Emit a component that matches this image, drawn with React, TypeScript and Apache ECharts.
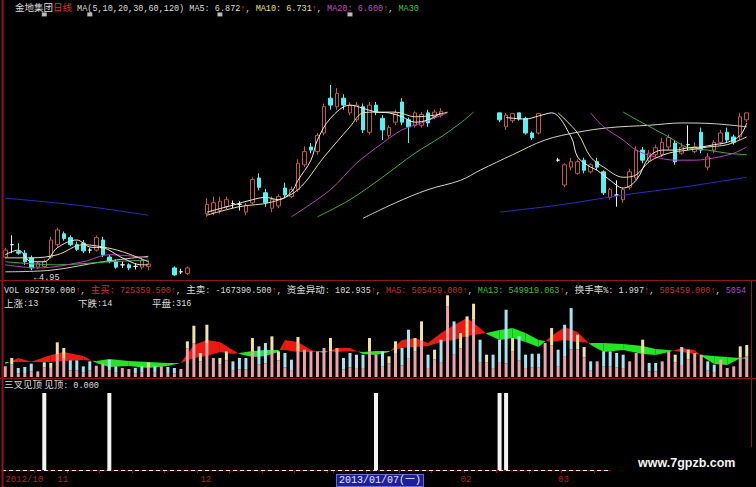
import React, { useEffect, useRef } from 'react';
import * as echarts from 'echarts';

// ---------- categories (trading days shown) ----------
const oct2012 = [22, 23, 24, 25, 26, 29, 30, 31];
const nov2012 = [1, 2, 5, 6, 7, 8, 9, 12, 13, 14, 15, 16, 19, 20, 21, 22, 23, 26, 27, 28, 29, 30];
const dec2012 = [3, 4, 5, 6, 7, 10, 11, 12, 13, 14, 17, 18, 19, 20, 21, 24, 25, 26, 27, 28, 31];
const jan2013 = [7, 8, 9, 10, 11, 14, 15, 16, 17, 18, 21, 22, 23, 24, 25, 28, 29, 30, 31];
const feb2013 = [1, 4, 5, 6, 7, 8, 18, 19, 20, 21, 22, 25, 26, 27, 28];
const mar2013 = [1, 4, 5, 6, 7, 8, 11, 12, 13, 14, 15, 18, 19, 20, 21, 22, 25, 26, 27, 28, 29];
const apr2013 = [1, 2, 3, 8, 9, 10, 11, 12, 15];
const monthBlocks: [number, number, number[]][] = [
  [2012, 10, oct2012], [2012, 11, nov2012], [2012, 12, dec2012],
  [2013, 1, jan2013], [2013, 2, feb2013], [2013, 3, mar2013], [2013, 4, apr2013],
];
const pad = (n: number) => (n < 10 ? '0' + n : '' + n);
const dates: string[] = [];
monthBlocks.forEach(([y, m, ds]) => ds.forEach((d) => dates.push(`${y}/${pad(m)}/${pad(d)}`)));
const cursorIdx = 51;

// ---------- price (open, close, low, high) ----------
const N = null;
const openP = [5.12, 5.28, 5.19, 5.17, 5.11, 4.99, 5.00, 5.12, 5.28, 5.42, 5.37, 5.28, 5.30, 5.21, 5.21, 5.34, 5.12, 5.06, 5.02, 5.02, 5.00, 4.99, 5.00, N, N, N, 4.98, 4.93, 4.91, N,
  N, 5.68, 5.70, 5.72, 5.77, 5.81, 5.80, 5.70, 5.82, 6.14, 5.95, 5.75, 5.78, 6.01, 5.90, 5.99, 6.31, 6.54, 6.48, 6.72, 7.17, 7.06, 7.17, 6.98, 6.89, 7.06, 6.73, 7.08, 6.91, 6.69,
  6.86, 7.12, 6.89, 6.82, 6.82, 6.98, 6.93, 6.95, N, N, N, N, N, N, N, N, 6.98, 6.80, 6.88, 6.98, 6.91, 6.72, 6.72, N, N, 6.37, 6.05, 6.28, 6.20, 6.37,
  6.22, 6.35, 6.22, 5.89, 5.92, 5.86, 6.02, 6.14, 6.50, 6.37, 6.44, 6.44, 6.54, 6.59, 6.46, 6.57, 6.48, 6.73, 6.28, 6.50, 6.60, 6.73, 6.67, 6.67, 6.89];
const closeP = [5.21, 5.28, 5.17, 5.06, 4.98, 5.04, 5.06, 5.34, 5.47, 5.36, 5.28, 5.22, 5.20, 5.21, 5.37, 5.15, 5.06, 4.99, 5.02, 4.98, 5.00, 5.08, 5.03, N, N, N, 4.89, 4.93, 4.98, N,
  N, 5.80, 5.82, 5.84, 5.86, 5.81, 5.80, 5.79, 6.12, 6.02, 5.82, 5.86, 5.90, 5.92, 5.99, 6.33, 6.48, 6.50, 6.69, 7.06, 7.08, 7.23, 7.08, 7.08, 7.08, 6.76, 7.08, 6.99, 6.76, 6.79,
  6.98, 6.86, 6.80, 6.98, 6.96, 6.85, 6.99, 7.00, N, N, N, N, N, N, N, N, 6.89, 6.95, 6.97, 6.90, 6.72, 6.66, 6.97, N, N, 6.37, 6.31, 6.35, 6.35, 6.24,
  6.31, 6.28, 5.95, 5.99, 5.92, 5.99, 6.22, 6.50, 6.37, 6.46, 6.53, 6.60, 6.66, 6.35, 6.54, 6.57, 6.54, 6.50, 6.41, 6.60, 6.72, 6.63, 6.60, 6.93, 6.98];
const lowP = [5.10, 5.17, 5.15, 5.02, 4.95, 4.97, 4.98, 5.10, 5.24, 5.33, 5.26, 5.20, 5.17, 5.17, 5.19, 5.12, 5.04, 4.97, 4.98, 4.95, 4.96, 4.96, 4.95, N, N, N, 4.88, 4.90, 4.89, N,
  N, 5.64, 5.66, 5.68, 5.74, 5.75, 5.72, 5.66, 5.80, 5.98, 5.77, 5.70, 5.75, 5.88, 5.88, 5.96, 6.28, 6.46, 6.44, 6.69, 7.02, 7.02, 7.02, 6.95, 6.86, 6.72, 6.70, 6.95, 6.63, 6.66,
  6.82, 6.82, 6.59, 6.79, 6.79, 6.80, 6.90, 6.92, N, N, N, N, N, N, N, N, 6.86, 6.76, 6.85, 6.88, 6.70, 6.63, 6.70, N, N, 6.35, 6.02, 6.24, 6.18, 6.20,
  6.20, 6.24, 5.92, 5.86, 5.77, 5.82, 5.99, 6.11, 6.33, 6.33, 6.41, 6.41, 6.50, 6.31, 6.44, 6.50, 6.46, 6.46, 6.24, 6.46, 6.57, 6.60, 6.57, 6.63, 6.86];
const highP = [5.24, 5.40, 5.30, 5.21, 5.14, 5.06, 5.09, 5.38, 5.50, 5.45, 5.40, 5.32, 5.34, 5.24, 5.40, 5.38, 5.15, 5.09, 5.06, 5.04, 5.04, 5.11, 5.08, N, N, N, 5.00, 4.97, 5.00, N,
  N, 5.88, 5.90, 5.90, 5.90, 5.85, 5.84, 5.82, 6.15, 6.20, 6.00, 5.90, 5.93, 6.08, 6.03, 6.38, 6.55, 6.59, 6.72, 7.10, 7.34, 7.30, 7.22, 7.12, 7.12, 7.10, 7.12, 7.12, 6.95, 6.82,
  7.02, 7.17, 6.92, 7.00, 6.99, 7.02, 7.02, 7.04, N, N, N, N, N, N, N, N, 6.98, 6.98, 6.98, 6.98, 6.93, 6.74, 6.98, N, N, 6.40, 6.33, 6.40, 6.38, 6.40,
  6.33, 6.40, 6.24, 6.01, 6.11, 6.01, 6.26, 6.55, 6.54, 6.50, 6.57, 6.66, 6.70, 6.63, 6.59, 6.82, 6.60, 6.79, 6.46, 6.63, 6.76, 6.79, 6.70, 6.98, 6.98];
const dojiIdx = [1, 13, 18, 20, 27, 35, 36, 85, 94, 105];
const topMarkIdx = [6, 13, 33, 53];
const topMarkLevel = 8.25;

// ---------- moving averages (key points: [bar, price]) ----------
const ma5L = [[0, 5.15], [2, 5.21], [4, 5.06], [6, 5.06], [8, 5.24], [11, 5.34], [13, 5.25], [15, 5.24], [18, 5.11], [21, 5.02], [22, 5.02]];
const ma5M = [[31, 5.70], [35, 5.79], [38, 5.86], [40, 5.89], [42, 5.86], [44, 5.96], [45, 6.11], [47, 6.37], [48, 6.63], [50, 6.91], [53, 7.08], [55, 7.04], [57, 6.99], [59, 6.98], [61, 6.93], [63, 6.86], [65, 6.89], [67, 6.98]];
const ma5R = [[77, 6.92], [80, 6.90], [82, 6.94], [84, 6.98], [87, 6.67], [88, 6.41], [90, 6.28], [91, 6.24], [93, 6.11], [95, 6.01], [97, 6.11], [99, 6.41], [101, 6.50], [103, 6.50], [105, 6.53], [107, 6.54], [109, 6.57], [111, 6.60], [113, 6.69], [114, 6.85]];
const ma10L = [[0, 5.11], [4, 5.11], [8, 5.15], [12, 5.28], [15, 5.25], [18, 5.19], [22, 5.06]];
const ma10M = [[31, 5.66], [36, 5.77], [41, 5.83], [45, 5.99], [49, 6.41], [53, 6.80], [55, 6.98], [57, 6.99], [60, 6.99], [63, 6.93], [66, 6.95], [68, 6.99]];
const ma10R = [[85, 6.98], [88, 6.72], [90, 6.41], [92, 6.28], [95, 6.15], [97, 6.18], [99, 6.35], [102, 6.46], [105, 6.50], [108, 6.54], [111, 6.57], [114, 6.67]];
const ma20L = [[0, 5.02], [5, 4.98], [12, 5.06], [16, 5.15], [22, 5.11]];
const ma20M = [[44, 5.64], [50, 5.99], [54, 6.33], [58, 6.59], [61, 6.76], [64, 6.85], [68, 6.98]];
const ma20R = [[90, 6.98], [92, 6.80], [95, 6.63], [97, 6.50], [100, 6.41], [103, 6.37], [106, 6.37], [109, 6.40], [112, 6.46], [114, 6.54]];
const ma30L = [[0, 5.06], [8, 5.02], [16, 5.06], [22, 5.08]];
const ma30M = [[48, 5.64], [53, 5.86], [58, 6.15], [63, 6.46], [67, 6.67], [70, 6.85], [72, 6.99]];
const ma30R = [[95, 6.99], [98, 6.85], [102, 6.67], [105, 6.53], [108, 6.50], [111, 6.46], [114, 6.44]];
const ma60L = [[0, 4.93], [7, 4.95], [15, 5.06], [22, 5.13]];
const ma60M = [[55, 5.62], [60, 5.82], [65, 5.99], [70, 6.11], [73, 6.24], [78, 6.44], [83, 6.63], [88, 6.73], [93, 6.79], [99, 6.82], [104, 6.85], [109, 6.84], [114, 6.80]];
const ma120L = [[0, 5.88], [11, 5.79], [22, 5.66]];
const ma120R = [[76, 5.70], [85, 5.79], [95, 5.92], [104, 6.02], [114, 6.15]];

// ---------- volume (thousand shares) ----------
const volume = [298, 530, 251, 279, 372, 158, 409, 391, 967, 809,
  465, 465, 298, 437, 316, 372, 484, 298, 251, 223,
  251, 298, 409, 298, 298, 279, 251, 223, 995, 1432,
  670, 1460, 530, 530, 716, 437, 530, 530, 1088, 856,
  949, 1135, 716, 670, 484, 1116, 763, 716, 716, 809,
  1088, 809, 530, 670, 623, 623, 1088, 623, 716, 577,
  995, 809, 1321, 1088, 1553, 623, 763, 1042, 2280, 1553,
  1228, 1693, 2046, 1042, 623, 623, 1042, 1879, 1088, 1135,
  623, 651, 651, 949, 1367, 763, 1460, 1925, 1181, 837,
  437, 437, 716, 716, 670, 623, 437, 670, 1042, 391,
  391, 437, 716, 623, 837, 763, 670, 623, 437, 344,
  484, 251, 298, 856, 892.75];
const volTop = [0, 185, 150, 167, 223, 0, 143, 137, 338, 283,
  279, 279, 179, 262, 0, 0, 290, 179, 0, 0,
  150, 179, 143, 179, 0, 167, 150, 0, 200, 501,
  234, 511, 0, 185, 250, 262, 318, 318, 380, 513,
  569, 397, 250, 402, 290, 390, 0, 0, 0, 0,
  380, 0, 318, 402, 374, 374, 380, 0, 430, 202,
  348, 485, 793, 380, 543, 374, 267, 625, 300, 932,
  430, 592, 450, 625, 218, 374, 625, 1500, 380, 681,
  374, 391, 391, 0, 478, 458, 876, 1155, 413, 293,
  262, 0, 430, 430, 402, 374, 0, 0, 365, 235,
  235, 0, 0, 218, 502, 267, 0, 0, 262, 206,
  0, 0, 0, 300, 313];
const volTone = 'PYCCCPYYYYCCCCPPCCPPCCYCPCCPYYYYPYYCCCYCCYYCCYPPPPYPCCCCYPCYYCCYYCYCYCYYYCYCCCYCCCCPYCCCYYCPCCCCPPYCCPPYCYPPCCPPPYY';
const bandIdx = [0, 2, 4, 7, 9, 12, 14, 16, 19, 22, 25, 27, 29, 31, 33, 35, 36, 38, 40, 42, 43, 45, 47, 49, 51, 53, 55, 57, 59, 61, 63, 65, 67, 69, 71, 73, 74, 76, 78, 80, 82, 84, 86, 88, 90, 92, 95, 98, 100, 102, 104, 106, 107, 109, 111, 113, 114];
const bandMa5 = [363, 530, 425, 614, 698, 586, 391, 279, 307, 251, 307, 395, 893, 1032, 977, 753, 642, 558, 586, 698, 1032, 977, 753, 670, 809, 809, 642, 614, 698, 1032, 1088, 949, 1228, 1451, 1646, 1367, 1200, 1032, 1088, 977, 837, 1144, 1395, 1256, 893, 698, 753, 642, 614, 698, 809, 753, 586, 363, 335, 525, 505.459];
const bandMa13 = [419, 419, 419, 419, 446, 474, 446, 502, 446, 419, 391, 391, 530, 586, 698, 642, 670, 725, 753, 753, 753, 698, 698, 725, 698, 725, 698, 725, 725, 809, 837, 865, 977, 1032, 1144, 1200, 1228, 1311, 1367, 1228, 1032, 977, 1032, 977, 949, 949, 921, 865, 781, 753, 698, 642, 614, 586, 558, 530, 549.919];

// ---------- indicator ----------
const topSignalIdx = [6, 16, 57, 76, 77];

// ---------- readouts ----------
const stockName = '金地集团';
const lastMA = { ma5: '6.872', ma10: '6.731', ma20: '6.600' };
const volRead = { vol: '892750.000', buy: '725359.500', sell: '-167390.500', flow: '102.935', vma5: '505459.000', vma13: '549919.063', turn: '1.997', tail: '5054' };
const breadth = { up: 13, down: 14, flat: 316 };
const lowLabel = '4.95';

const MONO = "'Liberation Mono','DejaVu Sans Mono','Noto Sans CJK SC',monospace";
const CJK = "'Noto Sans CJK SC','Liberation Mono',sans-serif";
const FRAME = '#8e1616';
const M = (fill: string, fontSize = 8.5) => ({ fill, fontFamily: MONO, fontSize, lineHeight: 6, verticalAlign: 'middle', padding: [3, 0, 0, 0] });
const C = (fill: string) => ({ fill, fontFamily: CJK, fontSize: 9.5, lineHeight: 9, verticalAlign: 'middle' });
const richBase = {
  w: M('#dcdcdc'), r: M('#e03a2a'), y: M('#e6e08a'), m: M('#c44cc4'), g: M('#3cc43c'), dr: M('#c83030'), p: M('#b040d0'),
  cw: C('#dcdcdc'), cr: C('#e03030'), cdr: C('#c83030'),
};

function buildOption() {
  const candleData = openP.map((o, i) => {
    if (o == null) return ['-', '-', '-', '-'];
    const v = [o, closeP[i], lowP[i], highP[i]];
    if (dojiIdx.includes(i)) {
      return { value: v, itemStyle: { color: '#f0f0f0', color0: '#f0f0f0', borderColor: '#f0f0f0', borderColor0: '#f0f0f0' } };
    }
    return v;
  });
  const maSeg = (data: number[][], color: string) => ({
    type: 'line', xAxisIndex: 0, yAxisIndex: 0, data, smooth: 0.35, symbol: 'none', silent: true, z: 3,
    lineStyle: { width: 1, color },
  });
  const toneColor: Record<string, string> = { Y: '#f2e2a2', C: '#a6e2f2', P: '#f0b4b8' };
  const volBase = volume.map((v, i) => v - volTop[i]);
  const volTopData = volTop.map((t, i) => ({ value: t, itemStyle: { color: toneColor[volTone[i]] } }));
  const bandRows = bandIdx.slice(0, -1).map((k, i) => [k, bandMa5[i], bandMa13[i], bandIdx[i + 1], bandMa5[i + 1], bandMa13[i + 1]]);
  const signal = dates.map((_, i) => (topSignalIdx.includes(i) ? 1 : 0));

  const weekday = ['日', '一', '二', '三', '四', '五', '六'];
  const labelMap: Record<number, string> = {};
  let prevMonth = '';
  dates.forEach((d, i) => {
    const mm = d.slice(5, 7);
    if (i === 0) labelMap[i] = '{n|' + d.slice(0, 7) + '}';
    else if (mm !== prevMonth) labelMap[i] = '{n|' + mm + '}';
    prevMonth = mm;
  });
  const cd = dates[cursorIdx].split('/').map(Number);
  labelMap[cursorIdx] = '{cur|' + dates[cursorIdx] + '(' + weekday[new Date(cd[0], cd[1] - 1, cd[2]).getDay()] + ')}';
  const mondays = new Set<number>();
  dates.forEach((d, i) => {
    const p = d.split('/').map(Number);
    if (new Date(p[0], p[1] - 1, p[2]).getDay() === 1) mondays.add(i);
  });

  const RED = '#e81a12';
  const GREEN = '#22e622';

  const titleText = `{cw|${stockName}}{cr|日线}{w| MA(5,10,20,30,60,120) MA5: ${lastMA.ma5}}{r|↑}{w|, }{y|MA10: ${lastMA.ma10}}{r|↑}{w|, }{m|MA20: ${lastMA.ma20}}{r|↑}{w|, }{g|MA30}`;
  const volText = `{w|VOL ${volRead.vol}}{r|↑}{w|, }{cdr|主买}{dr|: ${volRead.buy}↑}{w|, }{cw|主卖}{w|: ${volRead.sell}}{r|↑}{w|, }{cw|资金异动}{w|: ${volRead.flow}}{r|↑}{w|, }{dr|MA5: ${volRead.vma5}↑}{w|, }{g|MA13: ${volRead.vma13}}{r|↑}{w|, }{cw|换手率}{w|%: ${volRead.turn}}{r|↑}{w|, }{dr|${volRead.vma5}↑}{w|, }{p|${volRead.tail}}`;

  const txt = (x: number, y: number, text: string) => ({
    type: 'text', x, y, z: 120, silent: true,
    style: { text, rich: richBase, verticalAlign: 'middle', align: 'left', fill: '#dcdcdc', font: `8.5px ${MONO}` },
  });

  return {
    animation: false,
    backgroundColor: '#000000',
    grid: [
      { left: 2, right: 6, top: 10, height: 268 },
      { left: 2, right: 6, top: 295, height: 82 },
      { left: 2, right: 6, top: 393, height: 77 },
    ],
    xAxis: [
      { type: 'category', gridIndex: 0, data: dates, show: false, boundaryGap: true },
      { type: 'category', gridIndex: 1, data: dates, show: false, boundaryGap: true },
      {
        type: 'category', gridIndex: 2, data: dates, boundaryGap: true, position: 'bottom', offset: 3,
        axisLine: { lineStyle: { color: FRAME, width: 1 } },
        axisTick: { show: true, length: 3, interval: (i: number) => mondays.has(i), lineStyle: { color: FRAME } },
        splitLine: { show: false },
        axisLabel: {
          interval: (i: number) => labelMap[i] !== undefined,
          formatter: (_v: string, i: number) => labelMap[i] || '',
          align: 'left', margin: 2,
          rich: {
            n: { color: '#b41c1c', fontFamily: MONO, fontSize: 9 },
            cur: { color: '#e8e8ff', backgroundColor: '#1e1e98', borderColor: '#6a6ad8', borderWidth: 1, padding: [1, 2, 0, 2], fontFamily: MONO, fontSize: 10 },
          },
        },
      },
    ],
    yAxis: [
      { type: 'value', gridIndex: 0, min: 4.85, max: 8.307, show: false },
      { type: 'value', gridIndex: 1, min: 0, max: 2290, show: false },
      { type: 'value', gridIndex: 2, min: 0, max: 1, show: false },
    ],
    series: [
      {
        type: 'candlestick', xAxisIndex: 0, yAxisIndex: 0, data: candleData, barWidth: 4, z: 2,
        itemStyle: { color: '#000000', borderColor: '#c4564a', color0: '#54f2f2', borderColor0: '#54f2f2', borderWidth: 1 },
      },
      maSeg(ma120L, '#2c2cc8'), maSeg(ma120R, '#2c2cc8'),
      maSeg(ma60L, '#d6d0c0'), maSeg(ma60M, '#d6d0c0'),
      maSeg(ma30L, '#3cb43c'), maSeg(ma30M, '#3cb43c'), maSeg(ma30R, '#3cb43c'),
      maSeg(ma20L, '#c040c0'), maSeg(ma20M, '#c040c0'), maSeg(ma20R, '#c040c0'),
      maSeg(ma10L, '#e6e0a0'), maSeg(ma10M, '#e6e0a0'), maSeg(ma10R, '#e6e0a0'),
      maSeg(ma5L, '#ececec'), maSeg(ma5M, '#ececec'), maSeg(ma5R, '#ececec'),
      {
        type: 'scatter', xAxisIndex: 0, yAxisIndex: 0, silent: true, z: 4,
        data: topMarkIdx.map((k) => [k, topMarkLevel]), symbol: 'rect', symbolSize: [5, 4],
        itemStyle: { color: '#e8e8e8' },
      },
      {
        type: 'custom', xAxisIndex: 1, yAxisIndex: 1, data: bandRows, z: 1, silent: true,
        encode: { x: [0, 3], y: [1, 2, 4, 5] },
        renderItem: (_p: any, api: any) => {
          const k0 = api.value(0), a0 = api.value(1), b0 = api.value(2);
          const k1 = api.value(3), a1 = api.value(4), b1 = api.value(5);
          const A0 = api.coord([k0, a0]), B0 = api.coord([k0, b0]);
          const A1 = api.coord([k1, a1]), B1 = api.coord([k1, b1]);
          const d0 = a0 - b0, d1 = a1 - b1;
          const col = (d: number) => (d >= 0 ? RED : GREEN);
          if (d0 * d1 < 0) {
            const t = d0 / (d0 - d1);
            const P = [A0[0] + t * (A1[0] - A0[0]), A0[1] + t * (A1[1] - A0[1])];
            return {
              type: 'group', children: [
                { type: 'polygon', shape: { points: [A0, P, B0] }, style: { fill: col(d0) } },
                { type: 'polygon', shape: { points: [P, A1, B1] }, style: { fill: col(d1) } },
              ],
            };
          }
          return { type: 'polygon', shape: { points: [A0, A1, B1, B0] }, style: { fill: col(d0 + d1) } };
        },
      },
      { type: 'bar', xAxisIndex: 1, yAxisIndex: 1, stack: 'v', data: volBase, barWidth: 3, z: 2, silent: true, itemStyle: { color: '#eea2aa' } },
      { type: 'bar', xAxisIndex: 1, yAxisIndex: 1, stack: 'v', data: volTopData, barWidth: 3, z: 2, silent: true },
      {
        type: 'bar', xAxisIndex: 2, yAxisIndex: 2, data: signal, barWidth: 4, silent: true, z: 3, itemStyle: { color: '#f4f4f4' },
        markLine: { silent: true, symbol: 'none', z: 5, label: { show: false }, data: [{ yAxis: 0 }], lineStyle: { color: '#f0f0f0', type: [4, 3], width: 1, opacity: 1 } },
      },
    ],
    graphic: [
      { type: 'line', z: 110, silent: true, shape: { x1: 2.5, y1: 0, x2: 2.5, y2: 487 }, style: { stroke: FRAME, lineWidth: 2 } },
      { type: 'line', z: 110, silent: true, shape: { x1: 0, y1: 280.5, x2: 756, y2: 280.5 }, style: { stroke: FRAME, lineWidth: 1 } },
      { type: 'line', z: 110, silent: true, shape: { x1: 0, y1: 378.5, x2: 756, y2: 378.5 }, style: { stroke: FRAME, lineWidth: 1 } },
      { type: 'line', z: 110, silent: true, shape: { x1: 751.5, y1: 280, x2: 751.5, y2: 470 }, style: { stroke: FRAME, lineWidth: 1 } },
      txt(15, 7, titleText),
      txt(4, 289, volText),
      txt(4, 302.5, `{cw|上涨}{w|:${breadth.up}}`),
      txt(78, 302.5, `{cw|下跌}{w|:${breadth.down}}`),
      txt(152, 302.5, `{cw|平盘}{w|:${breadth.flat}}`),
      txt(4, 384, `{cw|三叉见顶 见顶}{w|: 0.000}`),
      txt(34, 276, `{w|←${lowLabel}}`),
      { type: 'rect', z: 115, silent: true, shape: { x: 611, y: 447, width: 145, height: 40 }, style: { fill: '#000000' } },
      {
        type: 'text', x: 638, y: 463, z: 120, silent: true,
        style: { text: 'www.7gpzb.com', fill: '#f4f4f4', font: "bold 12.5px 'Liberation Sans', Arial, sans-serif", verticalAlign: 'middle', align: 'left' },
      },
    ],
  };
}

export default function App() {
  const ref = useRef<HTMLDivElement>(null);
  useEffect(() => {
    document.body.style.margin = '0';
    document.body.style.background = '#000';
    const chart = echarts.init(ref.current as HTMLDivElement, null, { renderer: 'svg', width: 756, height: 487 });
    chart.setOption(buildOption() as any);
    return () => chart.dispose();
  }, []);
  return <div ref={ref} style={{ width: 756, height: 487, background: '#000' }} />;
}
